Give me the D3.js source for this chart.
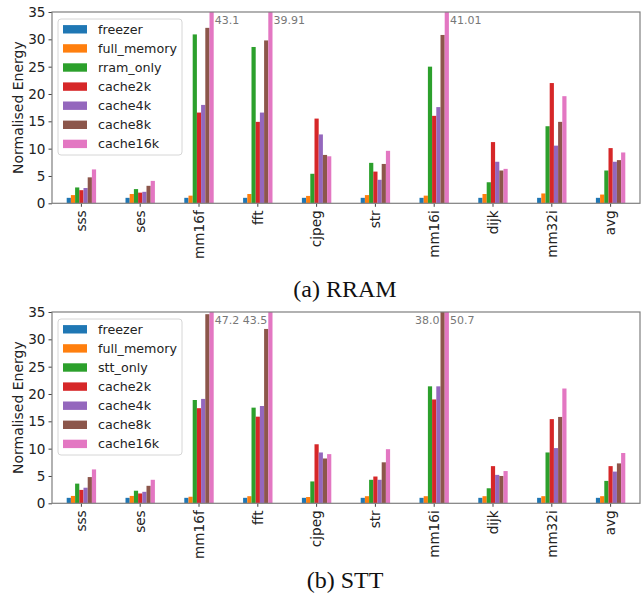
<!DOCTYPE html>
<html><head><meta charset="utf-8">
<script src="https://cdn.jsdelivr.net/npm/d3@7"></script>
<style>body{margin:0;background:#fff;} svg{display:block;}</style>
</head><body><svg id="chart" width="642" height="601"></svg>
<script>
const categories = ["sss","ses","mm16f","fft","cjpeg","str","mm16i","dijk","mm32i","avg"];
const yTicks = [0,5,10,15,20,25,30,35];
const colors = ["#1f77b4","#ff7f0e","#2ca02c","#d62728","#9467bd","#8c564b","#e377c2"];

// (a) RRAM
const rramSeries = ["freezer","full_memory","rram_only","cache2k","cache4k","cache8k","cache16k"];
const rramFreezer    = [1,1,1,1,1,1,1,1,1,1];
const rramFullMemory = [1.5,1.7,1.4,1.7,1.35,1.5,1.4,1.7,1.8,1.6];
const rramOnly       = [2.9,2.6,30.9,28.6,5.4,7.4,25.0,3.85,14.1,6.0];
const rramCache2k    = [2.4,1.95,16.6,14.9,15.5,5.8,16.0,11.2,22.0,10.1];
const rramCache4k    = [2.8,2.1,18.0,16.6,12.6,4.3,17.6,7.6,10.55,7.6];
const rramCache8k    = [4.75,3.2,32.1,29.8,8.85,7.2,30.8,6.0,14.9,7.9];
const rramCache16k   = [6.2,4.1,43.1,39.91,8.6,9.6,41.01,6.3,19.6,9.3];
const rramNotes = [
  {cat:"mm16f", series:6, text:"43.1", side:"right"},
  {cat:"fft", series:6, text:"39.91", side:"right"},
  {cat:"mm16i", series:6, text:"41.01", side:"right"}
];

// (b) STT
const sttSeries = ["freezer","full_memory","stt_only","cache2k","cache4k","cache8k","cache16k"];
const sttFreezer    = [1,1,1,1,1,1,1,1,1,1];
const sttFullMemory = [1.35,1.35,1.2,1.3,1.15,1.3,1.3,1.3,1.3,1.3];
const sttOnly       = [3.6,2.3,18.9,17.5,4.0,4.3,21.4,2.75,9.3,4.1];
const sttCache2k    = [2.45,1.8,17.4,15.85,10.8,4.9,19.0,6.8,15.4,6.8];
const sttCache4k    = [2.85,2.1,19.1,17.8,9.3,4.3,21.4,5.2,10.1,5.8];
const sttCache8k    = [4.8,3.2,34.6,31.9,8.2,7.5,38.0,5.0,15.8,7.3];
const sttCache16k   = [6.2,4.3,47.2,43.5,9.0,9.9,50.7,5.9,21.0,9.2];
const sttNotes = [
  {cat:"mm16f", series:6, text:"47.2", side:"right"},
  {cat:"fft", series:6, text:"43.5", side:"left"},
  {cat:"mm16i", series:5, text:"38.0", side:"left"},
  {cat:"mm16i", series:6, text:"50.7", side:"right"}
];

const svg = d3.select("#chart");
const left = 52, right = 640;

function panel(top, names, valuesList, notes, caption, captionY, id) {
  const bottom = top + 191.3;
  const x = d3.scaleBand().domain(categories).range([left, right]).paddingInner(0).paddingOuter(0);
  const xs = d3.scaleBand().domain(d3.range(names.length)).range([0, x.bandwidth() * 0.5]);
  const y = d3.scaleLinear().domain([0, 35]).range([bottom, top]);
  const g = svg.append("g");

  g.append("clipPath").attr("id", "clip" + id).append("rect")
    .attr("x", left).attr("y", top).attr("width", right - left).attr("height", bottom - top);

  const bars = g.append("g").attr("clip-path", `url(#clip${id})`);
  names.forEach((n, si) => {
    bars.selectAll(null).data(valuesList[si]).enter().append("rect")
      .attr("x", (d, i) => x(categories[i]) + x.bandwidth() * 0.25 + xs(si))
      .attr("y", d => y(d))
      .attr("width", xs.bandwidth())
      .attr("height", d => y(0) - y(d))
      .attr("fill", colors[si]);
  });

  // axes
  const yAxis = d3.axisLeft(y).tickValues(yTicks).tickSize(3.5).tickPadding(3);
  const ya = g.append("g").attr("transform", `translate(${left},0)`).call(yAxis);
  ya.select(".domain").remove();
  ya.selectAll("text").attr("font-family", "DejaVu Sans").attr("font-size", 13.6).attr("fill", "#222");
  ya.selectAll("line").attr("stroke", "#444");

  const xAxis = d3.axisBottom(x).tickSize(3.5).tickPadding(3);
  const xa = g.append("g").attr("transform", `translate(0,${bottom})`).call(xAxis);
  xa.select(".domain").remove();
  xa.selectAll("line").attr("stroke", "#444");
  xa.selectAll("text")
    .attr("font-family", "DejaVu Sans").attr("font-size", 13.6).attr("fill", "#222")
    .attr("transform", "rotate(-90)")
    .attr("text-anchor", "end")
    .attr("x", -7).attr("y", 0).attr("dy", "0.35em");

  g.append("rect").attr("x", left).attr("y", top).attr("width", right - left).attr("height", bottom - top)
    .attr("fill", "none").attr("stroke", "#7f7f7f").attr("stroke-width", 1.2);

  // annotations
  notes.forEach(nt => {
    const bx = x(nt.cat) + x.bandwidth() * 0.25 + xs(nt.series);
    const tx = nt.side === "right" ? bx + xs.bandwidth() + 1 : bx - 1;
    g.append("text").attr("x", tx).attr("y", top + 11.5)
      .attr("text-anchor", nt.side === "right" ? "start" : "end")
      .attr("font-family", "DejaVu Sans").attr("font-size", 11).attr("fill", "#777")
      .text(nt.text);
  });

  // y label
  g.append("text").attr("transform", `translate(18,${(top + bottom) / 2}) rotate(-90)`)
    .attr("text-anchor", "middle").attr("dy", "0.35em")
    .attr("font-family", "DejaVu Sans").attr("font-size", 14).attr("fill", "#222")
    .text("Normalised Energy");

  // legend
  const lg = g.append("g");
  lg.append("rect").attr("x", 58).attr("y", top + 7).attr("width", 124).attr("height", 136)
    .attr("rx", 3).attr("fill", "#fff").attr("fill-opacity", 0.85).attr("stroke", "#d6d6d6");
  names.forEach((n, i) => {
    const cy = top + 17.3 + i * 19.1;
    lg.append("rect").attr("x", 63).attr("y", cy - 4.2).attr("width", 24).attr("height", 8.4).attr("fill", colors[i]);
    lg.append("text").attr("x", 98).attr("y", cy).attr("dy", "0.35em")
      .attr("font-family", "DejaVu Sans").attr("font-size", 12.7).attr("fill", "#222").text(n);
  });

  svg.append("text").attr("x", 345).attr("y", captionY).attr("text-anchor", "middle")
    .attr("font-family", "Liberation Serif").attr("font-size", 24).attr("fill", "#111").text(caption);
}

panel(12, rramSeries, [rramFreezer, rramFullMemory, rramOnly, rramCache2k, rramCache4k, rramCache8k, rramCache16k], rramNotes, "(a) RRAM", 297, "a");
panel(312, sttSeries, [sttFreezer, sttFullMemory, sttOnly, sttCache2k, sttCache4k, sttCache8k, sttCache16k], sttNotes, "(b) STT", 588, "b");
</script></body></html>
